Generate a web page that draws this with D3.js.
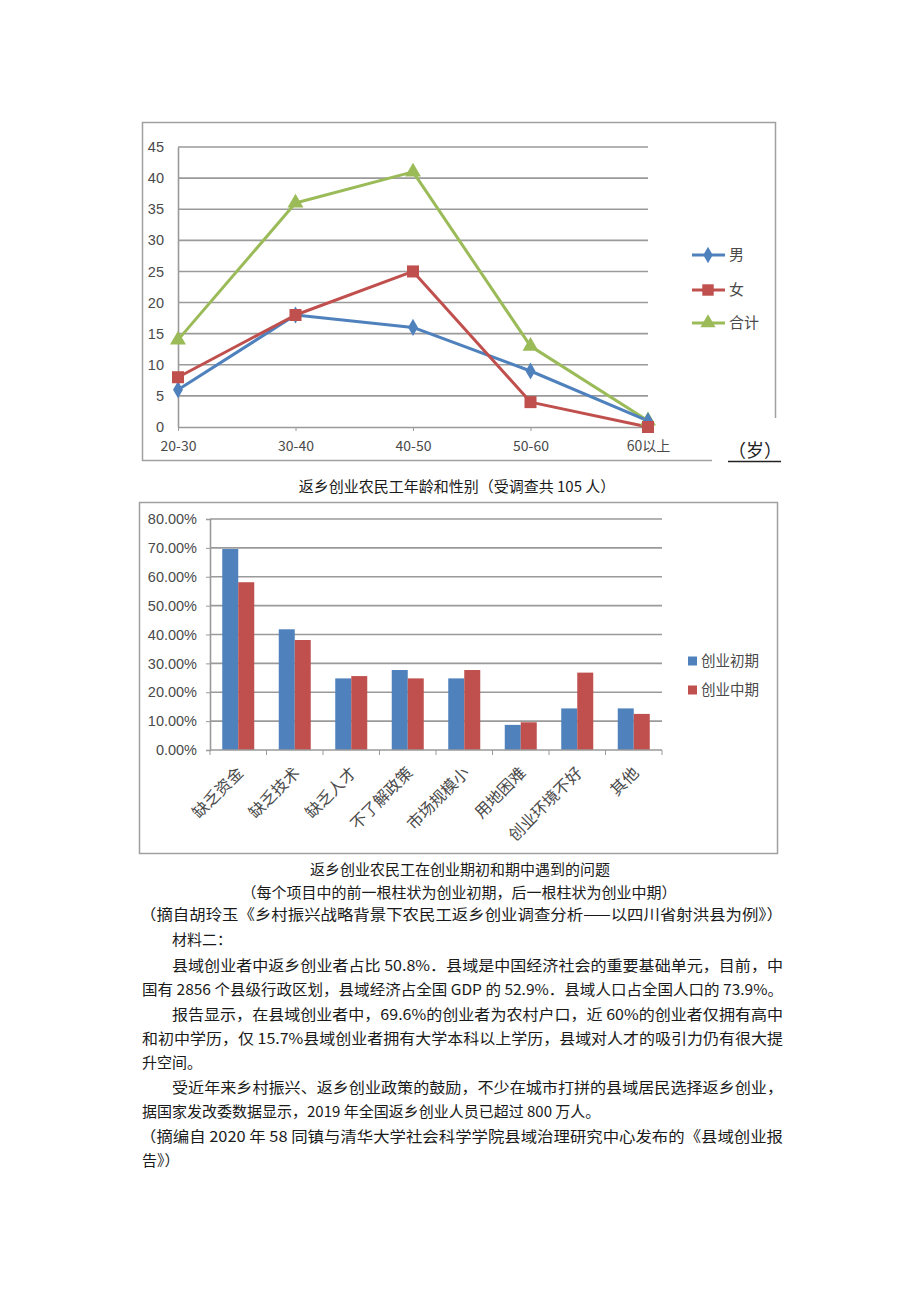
<!DOCTYPE html>
<html><head><meta charset="utf-8">
<script src="https://cdn.jsdelivr.net/npm/d3@7/dist/d3.min.js"></script>
<style>
html,body{margin:0;padding:0;background:#fff;}
svg{display:block;}
</style></head><body>
<svg id="c" width="920" height="1302"></svg>
<script>
// ---------- data ----------
const ageCats = ["20-30","30-40","40-50","50-60","60以上"];
const male   = [6,18,16,9,1];
const female = [8,18,25,4,0];
const total  = [14,36,41,13,1];
const ageTicks = [0,5,10,15,20,25,30,35,40,45];
const lineSeries = ["男","女","合计"];

const probCats = ["缺乏资金","缺乏技术","缺乏人才","不了解政策","市场规模小","用地困难","创业环境不好","其他"];
const early = [0.696,0.418,0.248,0.277,0.248,0.087,0.144,0.144];
const middle = [0.581,0.381,0.256,0.248,0.277,0.096,0.268,0.125];
const pctTicks = [0,0.1,0.2,0.3,0.4,0.5,0.6,0.7,0.8];
const barSeries = ["创业初期","创业中期"];

const textLines = [
  {t:"返乡创业农民工年龄和性别（受调查共 105 人）", x:457, y:492, a:"middle"},
  {t:"返乡创业农民工在创业期初和期中遇到的问题", x:460, y:875, a:"middle"},
  {t:"（每个项目中的前一根柱状为创业初期，后一根柱状为创业中期）", x:459, y:898, a:"middle"},
  {t:"（摘自胡玲玉《乡村振兴战略背景下农民工返乡创业调查分析——以四川省射洪县为例》）", x:140, y:920, w:643},
  {t:"材料二：", x:172, y:945},
  {t:"县域创业者中返乡创业者占比 50.8%．县域是中国经济社会的重要基础单元，目前，中", x:172, y:971, w:611},
  {t:"国有 2856 个县级行政区划，县域经济占全国 GDP 的 52.9%．县域人口占全国人口的 73.9%。", x:142, y:995, w:641},
  {t:"报告显示，在县域创业者中，69.6%的创业者为农村户口，近 60%的创业者仅拥有高中", x:172, y:1020, w:611},
  {t:"和初中学历，仅 15.7%县域创业者拥有大学本科以上学历，县域对人才的吸引力仍有很大提", x:142, y:1044, w:641},
  {t:"升空间。", x:142, y:1068},
  {t:"受近年来乡村振兴、返乡创业政策的鼓励，不少在城市打拼的县域居民选择返乡创业，", x:172, y:1093, w:611},
  {t:"据国家发改委数据显示，2019 年全国返乡创业人员已超过 800 万人。", x:142, y:1117},
  {t:"（摘编自 2020 年 58 同镇与清华大学社会科学学院县域治理研究中心发布的《县域创业报", x:140, y:1142, w:643},
  {t:"告》）", x:142, y:1166}
];

// ---------- setup ----------
const svg = d3.select("#c");
svg.append("rect").attr("width",920).attr("height",1302).attr("fill","#fff");
const CJK = "'Noto Sans CJK SC','Noto Sans',sans-serif";
const LAT = "'Liberation Sans','DejaVu Sans',sans-serif";
const blue="#4F81BD", red="#C0504D", green="#9BBB59";
const grid="#9a9a9a", lab="#4a4a4a";

// ---------- chart 1 ----------
const g1 = svg.append("g");
g1.append("rect").attr("x",142.5).attr("y",122.5).attr("width",633).attr("height",338)
  .attr("fill","#fff").attr("stroke","#a0a0a0").attr("stroke-width",1.5);
const x1 = d3.scalePoint().domain(ageCats).range([178,648]);
const y1 = d3.scaleLinear().domain([0,45]).range([427,147]);

g1.selectAll("line.grid").data(ageTicks.filter(d=>d>0)).join("line")
  .attr("x1",178).attr("x2",648).attr("y1",d=>y1(d)).attr("y2",d=>y1(d))
  .attr("stroke",grid).attr("stroke-width",1.6);
const ya1 = g1.append("g").attr("transform","translate(178,0)")
  .call(d3.axisLeft(y1).tickValues(ageTicks).tickSize(0).tickPadding(14));
ya1.select(".domain").attr("stroke",grid).attr("stroke-width",1.6);
ya1.selectAll("text").attr("font-family",LAT).attr("font-size",14.5).attr("fill",lab);
const xa1 = g1.append("g").attr("transform","translate(0,427)")
  .call(d3.axisBottom(x1).tickSize(4).tickSizeOuter(0).tickPadding(10));
xa1.select(".domain").attr("stroke",grid).attr("stroke-width",1.6);
xa1.selectAll("line").attr("stroke",grid);
xa1.selectAll("text").attr("font-family",CJK).attr("font-size",14).attr("fill",lab);

const lineGen = d3.line().x((d,i)=>x1(ageCats[i])).y(d=>y1(d));
const sets = [
  {name:"合计", vals:total, col:green, sym:d3.symbolTriangle, size:110},
  {name:"男", vals:male, col:blue, sym:d3.symbolDiamond, size:85},
  {name:"女", vals:female, col:red, sym:d3.symbolSquare, size:145}
];
sets.forEach(s=>{
  g1.append("path").attr("d",lineGen(s.vals)).attr("fill","none")
    .attr("stroke",s.col).attr("stroke-width",3).attr("stroke-linejoin","round");
});
sets.forEach(s=>{
  g1.selectAll(null).data(s.vals).join("path")
    .attr("transform",(d,i)=>`translate(${x1(ageCats[i])},${y1(d)})`)
    .attr("d",d3.symbol().type(s.sym).size(s.size)).attr("fill",s.col);
});
// legend
const legY = {"男":255,"女":290,"合计":323};
lineSeries.forEach(n=>{
  const s = sets.find(k=>k.name===n);
  const yy = legY[n];
  g1.append("line").attr("x1",692).attr("x2",725).attr("y1",yy).attr("y2",yy)
    .attr("stroke",s.col).attr("stroke-width",3);
  g1.append("path").attr("transform",`translate(708,${yy})`)
    .attr("d",d3.symbol().type(s.sym).size(s.size*0.9)).attr("fill",s.col);
  g1.append("text").attr("x",729).attr("y",yy+5).text(n)
    .attr("font-family",CJK).attr("font-size",15).attr("fill",lab);
});
// unit label covering corner
g1.append("rect").attr("x",712).attr("y",418).attr("width",75).attr("height",50).attr("fill","#fff");
g1.append("text").attr("x",755).attr("y",457).attr("text-anchor","middle").text("（岁）")
  .attr("font-family",CJK).attr("font-size",18).attr("fill","#222");
g1.append("line").attr("x1",728).attr("x2",781).attr("y1",461.5).attr("y2",461.5)
  .attr("stroke","#222").attr("stroke-width",1.5);

// ---------- chart 2 ----------
const g2 = svg.append("g");
g2.append("rect").attr("x",139.5).attr("y",502.5).attr("width",638).attr("height",351)
  .attr("fill","#fff").attr("stroke","#a0a0a0").attr("stroke-width",1.5);
const x2 = d3.scaleBand().domain(probCats).range([210,662]);
const xs = d3.scaleBand().domain(barSeries).range([12.25, x2.bandwidth()-12.25]);
const y2 = d3.scaleLinear().domain([0,0.8]).range([750,519]);

g2.selectAll("line.grid").data(pctTicks.filter(d=>d>0)).join("line")
  .attr("x1",210).attr("x2",662).attr("y1",d=>y2(d)).attr("y2",d=>y2(d))
  .attr("stroke",grid).attr("stroke-width",1.6);
const ya2 = g2.append("g").attr("transform","translate(210,0)")
  .call(d3.axisLeft(y2).tickValues(pctTicks).tickFormat(d3.format(".2%")).tickSize(4).tickPadding(9));
ya2.select(".domain").attr("stroke",grid).attr("stroke-width",1.6);
ya2.selectAll("line").attr("stroke",grid);
ya2.selectAll("text").attr("font-family",LAT).attr("font-size",14.5).attr("fill",lab);

const bars = [{name:"创业初期",vals:early,col:blue},{name:"创业中期",vals:middle,col:red}];
bars.forEach(b=>{
  g2.selectAll(null).data(b.vals).join("rect")
    .attr("x",(d,i)=>x2(probCats[i])+xs(b.name)).attr("width",xs.bandwidth())
    .attr("y",d=>y2(d)).attr("height",d=>y2(0)-y2(d)).attr("fill",b.col);
});
// x axis with ticks at band boundaries
g2.append("line").attr("x1",210).attr("x2",662).attr("y1",750).attr("y2",750)
  .attr("stroke",grid).attr("stroke-width",1.6);
const bounds = probCats.map(c=>x2(c)).concat([x2(probCats[probCats.length-1])+x2.bandwidth()]);
g2.selectAll("line.tk").data(bounds).join("line")
  .attr("x1",d=>d).attr("x2",d=>d).attr("y1",750).attr("y2",755).attr("stroke",grid);
g2.selectAll("text.xl").data(probCats).join("text")
  .attr("transform",d=>`translate(${x2(d)+x2.bandwidth()/2+6},774) rotate(-45)`)
  .attr("text-anchor","end").text(d=>d)
  .attr("font-family",CJK).attr("font-size",16).attr("fill",lab);
// legend
bars.forEach((b,i)=>{
  const yy = 661 + i*29;
  g2.append("rect").attr("x",688).attr("y",yy-4.5).attr("width",9).attr("height",9).attr("fill",b.col);
  g2.append("text").attr("x",701).attr("y",yy+5).text(b.name)
    .attr("font-family",CJK).attr("font-size",14.5).attr("fill",lab);
});

// ---------- text ----------
textLines.forEach(l=>{
  const t = svg.append("text").attr("x",l.x).attr("y",l.y).text(l.t)
    .attr("font-family",CJK).attr("font-size",15).attr("fill","#1a1a1a")
    .attr("text-anchor",l.a||"start");
  if(l.w) t.attr("textLength",l.w).attr("lengthAdjust","spacingAndGlyphs");
});
</script>
</body></html>
